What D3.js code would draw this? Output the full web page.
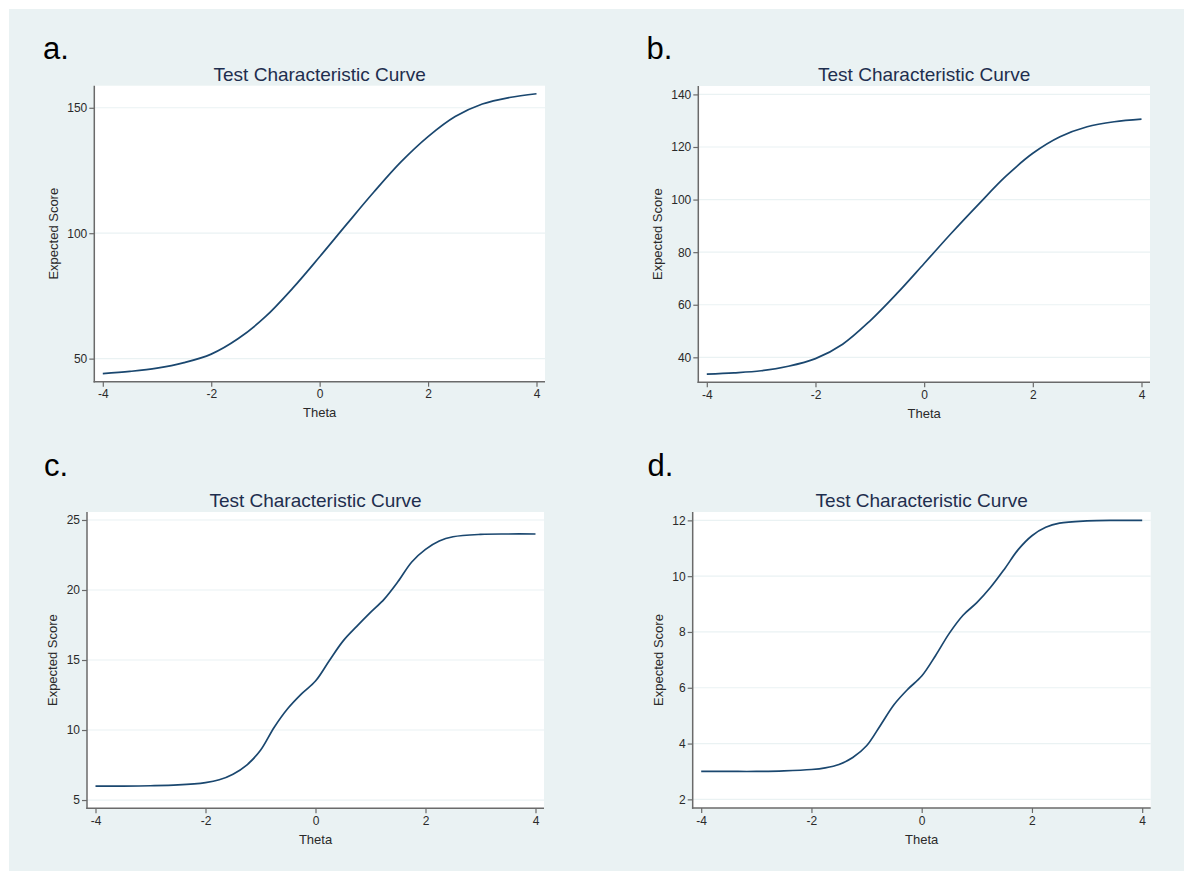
<!DOCTYPE html>
<html>
<head>
<meta charset="utf-8">
<script src="https://cdn.jsdelivr.net/npm/d3@7"></script>
<style>
  html, body { margin: 0; padding: 0; background: #ffffff; }
  svg { display: block; font-family: "Liberation Sans", Arial, sans-serif; }
</style>
</head>
<body>
<svg id="chart" width="1184" height="871"></svg>
<script>
// ---------------- data ----------------
const thetaAB = [-4, -3.5, -3, -2.5, -2, -1.5, -1, -0.5, 0, 0.5, 1, 1.5, 2, 2.5, 3, 3.5, 4];
const scoreA  = [44.0, 44.9, 46.2, 48.4, 51.8, 58.0, 66.7, 78.0, 90.6, 103.6, 116.4, 128.4, 138.5, 146.5, 151.5, 154.1, 155.6];
const scoreB  = [33.6, 34.1, 34.9, 36.6, 39.5, 45.0, 53.8, 64.3, 75.7, 87.2, 98.2, 108.8, 117.6, 123.9, 127.7, 129.6, 130.6];

const thetaCD = [-4, -3.5, -3, -2.5, -2, -1.75, -1.5, -1.25, -1, -0.75, -0.5, -0.25, 0,
                 0.25, 0.5, 0.75, 1, 1.25, 1.5, 1.75, 2, 2.25, 2.5, 3, 3.5, 4];
const scoreC  = [6.0, 6.0, 6.02, 6.08, 6.25, 6.45, 6.85, 7.5, 8.55, 10.2, 11.55, 12.6, 13.5,
                 14.95, 16.35, 17.4, 18.4, 19.35, 20.6, 22.0, 22.9, 23.5, 23.8, 23.97, 24.0, 24.0];
const scoreD  = [3.0, 3.0, 3.0, 3.02, 3.07, 3.13, 3.25, 3.5, 3.92, 4.65, 5.4, 5.95, 6.42,
                 7.15, 7.95, 8.6, 9.05, 9.6, 10.25, 10.95, 11.45, 11.75, 11.9, 11.98, 12.0, 12.0];

const xTicks  = [-4, -2, 0, 2, 4];
const yTicksA = [50, 100, 150];
const yTicksB = [40, 60, 80, 100, 120, 140];
const yTicksC = [5, 10, 15, 20, 25];
const yTicksD = [2, 4, 6, 8, 10, 12];

const panelLetters = ["a.", "b.", "c.", "d."];
const titleText = "Test Characteristic Curve";
const xTitle = "Theta";
const yTitle = "Expected Score";

// ---------------- layout ----------------
const panels = [
  { letter: panelLetters[0], theta: thetaAB, score: scoreA, yTicks: yTicksA, yDomain: [40.8, 158.8],
    box: { l: 94.3, r: 545, t: 85.7, b: 381.7 }, letterPos: [43, 59], titleY: 81 },
  { letter: panelLetters[1], theta: thetaAB, score: scoreB, yTicks: yTicksB, yDomain: [30.5, 143.2],
    box: { l: 698.3, r: 1150, t: 86, b: 382.3 }, letterPos: [646.5, 59], titleY: 81 },
  { letter: panelLetters[2], theta: thetaCD, score: scoreC, yTicks: yTicksC, yDomain: [4.41, 25.57],
    box: { l: 87, r: 544, t: 512, b: 808.3 }, letterPos: [44, 476], titleY: 507 },
  { letter: panelLetters[3], theta: thetaCD, score: scoreD, yTicks: yTicksD, yDomain: [1.69, 12.3],
    box: { l: 692.7, r: 1150.7, t: 512, b: 808 }, letterPos: [647.5, 476], titleY: 507 }
];

const svg = d3.select("#chart");

// outer graph region
svg.append("rect")
  .attr("x", 9).attr("y", 9)
  .attr("width", 1184 - 9).attr("height", 871 - 9)
  .attr("fill", "#eaf2f3");

const axisColor = "#6a6a6a";
const gridColor = "#eaf2f3";
const lineColor = "#1a476f";
const textColor = "#2a2a2a";

panels.forEach(p => {
  const g = svg.append("g");
  const { l, r, t, b } = p.box;

  const x = d3.scaleLinear().domain([-4, 4]).range([l + 8.5, r - 8.5]);
  const y = d3.scaleLinear().domain(p.yDomain).range([b, t]);

  // plot region
  g.append("rect")
    .attr("x", l).attr("y", t)
    .attr("width", r - l).attr("height", b - t)
    .attr("fill", "#ffffff");

  // gridlines
  g.append("g")
    .selectAll("line")
    .data(p.yTicks)
    .join("line")
    .attr("x1", l).attr("x2", r)
    .attr("y1", d => y(d)).attr("y2", d => y(d))
    .attr("stroke", gridColor)
    .attr("stroke-width", 1.2);

  // curve
  const line = d3.line()
    .x((d, i) => x(p.theta[i]))
    .y(d => y(d))
    .curve(d3.curveCatmullRom.alpha(0.5));
  g.append("path")
    .datum(p.score)
    .attr("d", line)
    .attr("fill", "none")
    .attr("stroke", lineColor)
    .attr("stroke-width", 1.7)
    .attr("stroke-linejoin", "round");

  // y axis
  const yAxis = d3.axisLeft(y)
    .tickValues(p.yTicks)
    .tickFormat(d => String(d))
    .tickSize(5)
    .tickPadding(2);
  const yg = g.append("g").attr("transform", `translate(${l},0)`).call(yAxis);
  yg.select(".domain").remove();
  yg.selectAll(".tick line").attr("stroke", axisColor).attr("stroke-width", 1.2);
  yg.selectAll(".tick text")
    .attr("fill", textColor)
    .style("font-size", "12px")
    .style("font-family", "'Liberation Sans', Arial, sans-serif");

  // x axis
  const xAxis = d3.axisBottom(x)
    .tickValues(xTicks)
    .tickFormat(d => String(d))
    .tickSize(5)
    .tickPadding(3);
  const xg = g.append("g").attr("transform", `translate(0,${b})`).call(xAxis);
  xg.select(".domain").remove();
  xg.selectAll(".tick line").attr("stroke", axisColor).attr("stroke-width", 1.2);
  xg.selectAll(".tick text")
    .attr("fill", textColor)
    .style("font-size", "12px")
    .style("font-family", "'Liberation Sans', Arial, sans-serif");

  // axis lines
  g.append("line")
    .attr("x1", l).attr("x2", l).attr("y1", t).attr("y2", b + 0.75)
    .attr("stroke", axisColor).attr("stroke-width", 1.5);
  g.append("line")
    .attr("x1", l - 0.75).attr("x2", r).attr("y1", b).attr("y2", b)
    .attr("stroke", axisColor).attr("stroke-width", 1.5);

  // axis titles
  g.append("text")
    .attr("x", (l + r) / 2)
    .attr("y", b + 35.5)
    .attr("text-anchor", "middle")
    .attr("fill", textColor)
    .style("font-size", "13px")
    .text(xTitle);

  let maxW = 0;
  yg.selectAll(".tick text").each(function () {
    maxW = Math.max(maxW, this.getComputedTextLength());
  });
  const yTitleX = l - 7 - maxW - 9.5;
  g.append("text")
    .attr("transform", `translate(${yTitleX},${(t + b) / 2}) rotate(-90)`)
    .attr("text-anchor", "middle")
    .attr("fill", textColor)
    .style("font-size", "13px")
    .text(yTitle);

  // chart title
  g.append("text")
    .attr("x", (l + r) / 2)
    .attr("y", p.titleY)
    .attr("text-anchor", "middle")
    .attr("fill", "#1e2e4e")
    .style("font-size", "19px")
    .text(titleText);

  // panel letter
  svg.append("text")
    .attr("x", p.letterPos[0])
    .attr("y", p.letterPos[1])
    .attr("fill", "#000000")
    .style("font-size", "31px")
    .text(p.letter);
});
</script>
</body>
</html>
